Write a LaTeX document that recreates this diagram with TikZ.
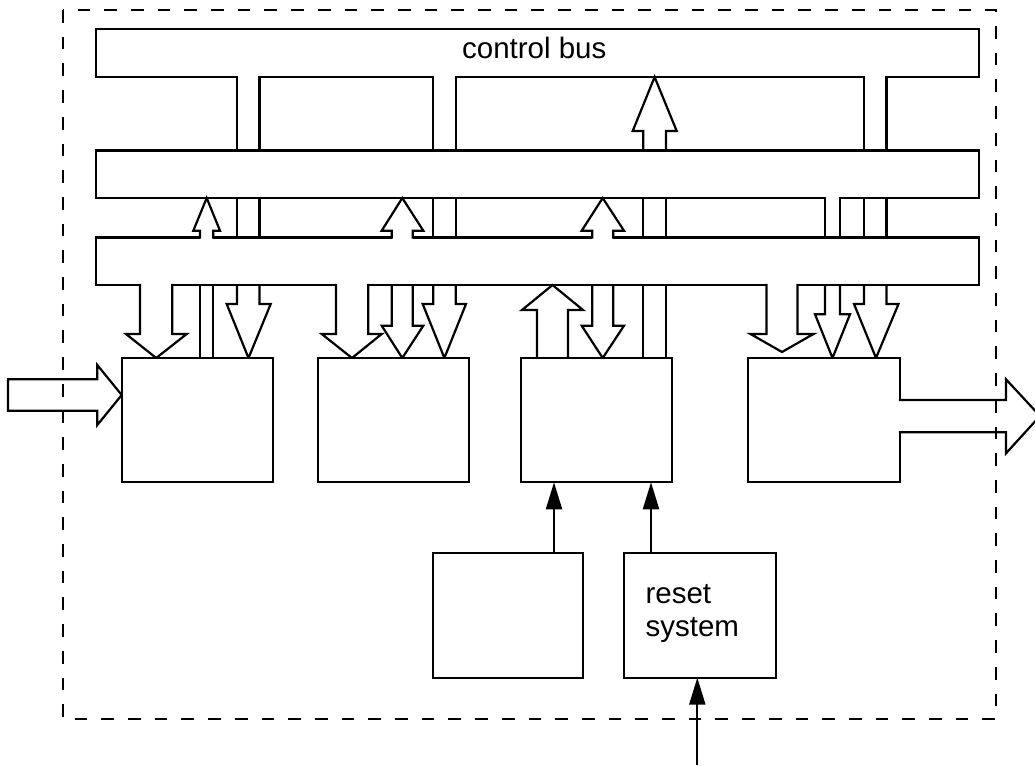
\documentclass[tikz,border=0pt]{standalone}
\usepackage{fontspec}
\setmainfont{Liberation Sans}
\usetikzlibrary{arrows.meta}
\begin{document}
\begin{tikzpicture}[x=1pt,y=-1pt, line width=2.2pt, line join=miter,
  box/.style={draw, fill=white, inner sep=0pt, outer sep=0pt},
  ptr/.style={-{Triangle[length=27pt,width=16pt]}},
  frame/.style={line width=1.9pt, dash pattern=on 12.7pt off 14pt},
  lbl/.style={inner sep=0pt, font=\fontsize{29.5}{33.4}\selectfont}]
\useasboundingbox (0,0) rectangle (1035,765);

% buses
\node[box, minimum width=883pt, minimum height=48pt]   (cbus) at (537.5,53) {};
\node[box, minimum width=883pt, minimum height=47.5pt] (bus2) at (537.5,174.25) {};
\node[box, minimum width=883pt, minimum height=47.5pt] (bus3) at (537.5,261.25) {};
\node[lbl, anchor=base west] (cbl) at (461,58.3) {control bus};

% control-bus stubs (open into the control bus)
\foreach \a/\b in {237/259.5, 433.3/455.7, 864/886.5} {
  \fill[white] (\a,75) rectangle (\b,149);
  \draw (\a,75.9) -- (\a,150.5) (\b,75.9) -- (\b,150.5);
}

% big arrow into control bus
\draw (643.3,150.5) -- (643.3,131) -- (632.7,131) -- (654.6,77) -- (676.7,131) -- (666,131) -- (666,150.5);

% plain channels between bus 2 and bus 3
\foreach \x in {237,259.5,433.3,455.7,643.3,666,864,886.5}
  \draw (\x,198) -- (\x,237.5);

% channel opening into bus 2
\fill[white] (825,196) rectangle (840,236);
\draw (825,196.9) -- (825,237.5) (840,196.9) -- (840,237.5);

% up arrows from bus 3 into bus 2
\foreach \a/\b/\c/\d/\t in {200/213.3/193.3/220/206.7, 391.7/412.7/381.7/423.3/402.3, 592.3/613.3/581.7/624/602.7} {
  \fill[white] (\a,236) rectangle (\b,240);
  \draw (\a,238.6) -- (\a,230.7) -- (\c,230.7) -- (\t,198) -- (\d,230.7) -- (\b,230.7) -- (\b,238.6);
}

% wide down arrows opening out of bus 3
\foreach \a/\b/\c/\d/\t/\h/\y in {140/172.3/126/186.7/156.2/334/358, 336/368.3/321.7/381.7/352/334/358, 766.5/797.5/750.5/813.5/782/334/352} {
  \fill[white] (\a,283) rectangle (\b,290);
  \draw (\a,283.9) -- (\a,\h) -- (\c,\h) -- (\t,\y) -- (\d,\h) -- (\b,\h) -- (\b,283.9);
}

% narrow down arrows below bus 3
\foreach \a/\b/\c/\d/\t/\h in {237/259.5/226.7/270.7/248.5/304, 391.7/412.7/381.7/423.3/402.3/325.7, 433.3/455.7/422.7/466/444.4/304, 592.3/613.3/581.7/624/602.7/325.7, 825/840/815/850/832.5/314.3, 864/886.5/854/898.5/876/304}
  \draw (\a,285) -- (\a,\h) -- (\c,\h) -- (\t,358) -- (\d,\h) -- (\b,\h) -- (\b,285);

% plain channels below bus 3
\foreach \x in {200,213.3,643.3,666}
  \draw (\x,285) -- (\x,358);

% up arrow from block 3 into bus 3
\draw (537,358) -- (537,310) -- (522,310) -- (552.5,285) -- (583,310) -- (568,310) -- (568,358);

% input arrow
\draw (8,379.3) -- (97.3,379.3) -- (97.3,365) -- (121.7,395) -- (97.3,425) -- (97.3,410.7) -- (8,410.7) -- cycle;

% blocks
\node[box, minimum width=151pt,   minimum height=124.3pt] (b1) at (197.2,420.15) {};
\node[box, minimum width=151.5pt, minimum height=124.3pt] (b2) at (393.45,420.15) {};
\node[box, minimum width=151pt,   minimum height=124.3pt] (b3) at (596.5,420.15) {};
\node[box, minimum width=152pt,   minimum height=124.3pt] (b4) at (824,420.15) {};
\node[box, minimum width=150.6pt, minimum height=124.4pt] (b5) at (508,615.5) {};
\node[box, minimum width=151.7pt, minimum height=124.4pt] (rst) at (699.85,615.5) {};
\node[lbl, align=left, anchor=base west] (rtxt) at (644.5,636.7) {reset\\system};

% output arrow (open out of block 4)
\fill[white] (898,400) rectangle (1006,432.3);
\draw (898.9,400) -- (1006,400) -- (1006,379.3) -- (1040,416) -- (1006,453.3) -- (1006,432.3) -- (898.9,432.3);

% thin arrows
\draw[ptr] (554,0 |- b5.north) -- (554,0 |- b3.south);
\draw[ptr] (651,0 |- rst.north) -- (651,0 |- b3.south);
\coordinate (rin) at (697.3,765);
\draw[ptr] (rin) -- (rin |- rst.south);

% dashed boundary
\draw[frame] (63,10) rectangle (996,719.3);
\end{tikzpicture}
\end{document}
